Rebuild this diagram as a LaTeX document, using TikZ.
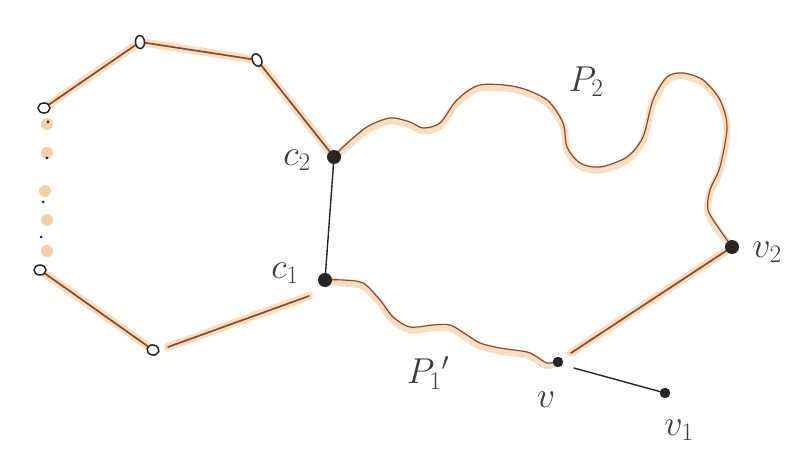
\documentclass[tikz,border=0pt]{standalone}
\usepackage{fix-cm}
\usepackage{fontspec}
\setmainfont{DejaVu Sans}
\usetikzlibrary{shapes.geometric}
\definecolor{brownline}{HTML}{8A4A2A}
\definecolor{glow}{HTML}{F6CFA4}
\definecolor{inkdot}{HTML}{262626}
\tikzset{
  glowpath/.style={line width=8pt, color=glow, opacity=0.7, line cap=round, line join=round},
  brownpath/.style={line width=1.7pt, color=brownline, line cap=round, line join=round},
  blackpath/.style={line width=1.4pt, color=inkdot, line cap=round},
  openv/.style={ellipse, draw=inkdot, line width=1.5pt, fill=white, minimum width=9pt, minimum height=13pt, inner sep=0pt},
  openh/.style={ellipse, draw=inkdot, line width=1.5pt, fill=white, minimum width=12pt, minimum height=10pt, inner sep=0pt},
  fullv/.style={circle, fill=inkdot, minimum size=14pt, inner sep=0pt},
  smallv/.style={circle, fill=inkdot, draw=inkdot, minimum size=10pt, inner sep=0pt},
  glowdot/.style={circle, fill=glow, minimum size=12pt, inner sep=0pt},
  tinydot/.style={circle, fill=inkdot, minimum size=3pt, inner sep=0pt},
  lbl/.style={font=\fontsize{36}{36}\selectfont, text=inkdot!90, inner sep=0pt}
}
\begin{document}
\begin{tikzpicture}[x=1pt,y=-1pt]
\useasboundingbox (0,0) rectangle (800,457);
% positions
\coordinate (a1) at (44,108);
\coordinate (a2) at (140,42);
\coordinate (a3) at (257,60);
\coordinate (b1) at (40,270);
\coordinate (b2) at (153,350);
\coordinate (c2p) at (334,157);
\coordinate (c1p) at (325,280);
\coordinate (vp) at (558,362);
\coordinate (v2p) at (732,247);
\coordinate (v1p) at (665,393);
\coordinate (e1) at (309,296);
\coordinate (s1) at (168,347);
\coordinate (s2) at (571,353);
\coordinate (s3) at (574,368);
% dotted part of the cycle
\foreach \p/\q in {47/124, 47/153, 45/191, 47/220, 47/251}{
  \node[glowdot] at (\p,\q) {};
}
\node[tinydot] (d1) at (48,122) {};
\node[tinydot] (d2) at (47,158) {};
\node[tinydot] (d3) at (43,202) {};
\node[tinydot] (d4) at (41,237) {};
% glow underlay
\draw[glowpath] (a1) -- (a2) -- (a3) -- (c2p);
\draw[glowpath] (b1) -- (b2);
\draw[glowpath] (s1) -- (e1);
\draw[glowpath] (s2) -- (v2p);
\draw[glowpath, line width=7pt] plot[smooth, tension=0.5] coordinates {(c2p) (343,150) (367,130) (390,121) (410,125) (423,131) (440,126) (457,103) (480,88) (517,90) (547,103) (563,126) (567,150) (580,166) (600,170) (627,160) (643,140) (653,103) (667,80) (683,76) (703,83) (720,103) (727,130) (720,170) (710,193) (708,213) (720,233) (v2p)};
\draw[glowpath, line width=7pt] plot[smooth, tension=0.5] coordinates {(c1p) (343,283) (363,286) (380,303) (393,320) (410,330) (433,328) (450,328) (467,338) (480,346) (500,351) (527,355) (537,360) (547,366) (vp)};
% brown ink
\draw[brownpath] (a1) -- (a2) -- (a3) -- (c2p);
\draw[brownpath] (b1) -- (b2);
\draw[brownpath] (s1) -- (e1);
\draw[brownpath] (s2) -- (v2p);
\draw[brownpath, line width=1.2pt] plot[smooth, tension=0.5] coordinates {(c2p) (343,147) (367,127) (390,118) (410,122) (423,128) (440,123) (457,100) (480,85) (517,87) (547,100) (563,123) (567,147) (580,163) (600,167) (627,157) (643,137) (653,100) (667,77) (683,73) (703,80) (720,100) (727,127) (720,167) (710,190) (708,210) (720,230) (v2p)};
\draw[brownpath, line width=1.2pt] plot[smooth, tension=0.5] coordinates {(c1p) (343,280) (363,283) (380,300) (393,317) (410,327) (433,325) (450,325) (467,335) (480,343) (500,348) (527,352) (537,357) (547,363) (vp)};
% black edges
\draw[blackpath] (c2p) -- (c1p);
\draw[blackpath] (s3) -- (v1p);
% vertices
\node[openh] (o1) at (a1) {};
\node[openv, rotate=5] (o2) at (a2) {};
\node[openv, rotate=25] (o3) at (a3) {};
\node[openh] (o4) at (b1) {};
\node[openh, rotate=-15] (o5) at (b2) {};
\node[fullv] (c2) at (c2p) {};
\node[fullv] (c1) at (c1p) {};
\node[smallv] (v) at (vp) {};
\node[fullv] (v2) at (v2p) {};
\node[smallv] (v1) at (v1p) {};
% labels
\node[lbl] (lc2) at (297,160) {$c_2$};
\node[lbl] (lc1) at (285,273) {$c_1$};
\node[lbl] (lp2) at (586,82) {$P_2$};
\node[lbl] (lp1) at (428,373) {$P_1{}'$};
\node[lbl] (lv) at (546,400) {$v$};
\node[lbl] (lv2) at (767,252) {$v_2$};
\node[lbl] (lv1) at (679,430) {$v_1$};
\end{tikzpicture}
\end{document}
